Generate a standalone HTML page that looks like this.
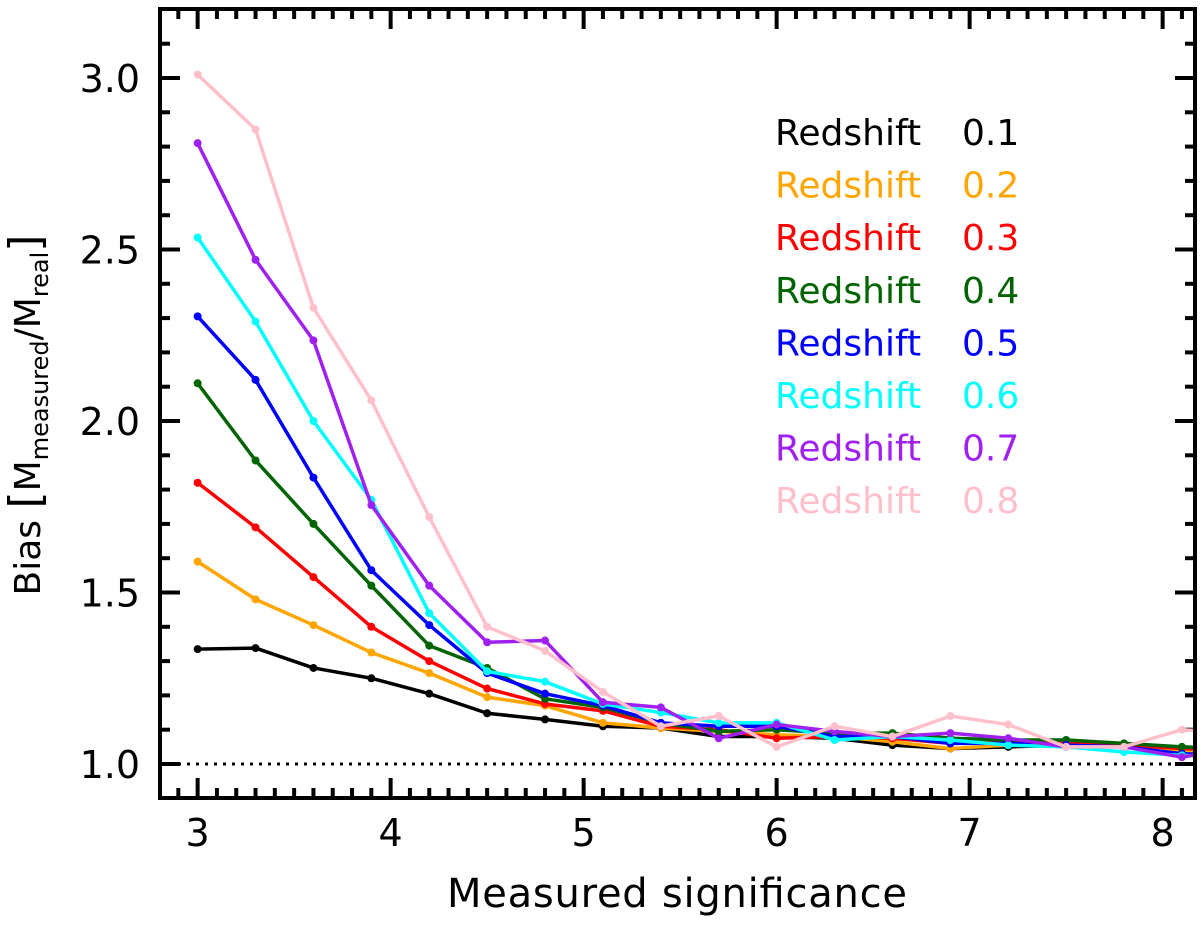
<!DOCTYPE html>
<html><head><meta charset="utf-8"><style>
body{margin:0;background:#fff}
svg text{font-family:"DejaVu Sans","Liberation Sans",sans-serif}
</style></head><body>
<svg id="chart" width="1200" height="933" viewBox="0 0 1200 933" xmlns="http://www.w3.org/2000/svg">
<defs><clipPath id="pc"><rect x="160" y="9" width="1035" height="789"/></clipPath></defs>
<g id="ticks"></g>
<g id="series" clip-path="url(#pc)"></g>
<rect x="160" y="9" width="1035" height="789" fill="none" stroke="#000" stroke-width="4"/>
<g id="legend"></g>
<text x="677" y="907" font-size="40" text-anchor="middle" textLength="460">Measured significance</text>
<text transform="translate(40,415) rotate(-90)" font-size="36" text-anchor="middle">Bias <tspan font-size="44">[</tspan>M<tspan font-size="24" dy="8">measured</tspan><tspan dy="-8">/M</tspan><tspan font-size="24" dy="8">real</tspan><tspan font-size="44" dy="-8">]</tspan></text>
</svg>
<script>
const xVals=[3,3.3,3.6,3.9,4.2,4.5,4.8,5.1,5.4,5.7,6.0,6.3,6.6,6.9,7.2,7.5,7.8,8.1,8.4];
const z01=[1.335,1.338,1.28,1.25,1.205,1.148,1.13,1.11,1.105,1.08,1.08,1.075,1.055,1.045,1.05,1.055,1.05,1.03,1.02];
const z02=[1.59,1.48,1.405,1.325,1.265,1.195,1.17,1.12,1.105,1.095,1.085,1.08,1.065,1.045,1.055,1.06,1.055,1.04,1.03];
const z03=[1.82,1.69,1.545,1.40,1.30,1.22,1.175,1.155,1.11,1.10,1.075,1.08,1.075,1.06,1.065,1.06,1.055,1.045,1.04];
const z04=[2.11,1.885,1.70,1.52,1.345,1.28,1.19,1.165,1.12,1.095,1.10,1.09,1.09,1.075,1.07,1.07,1.06,1.05,1.045];
const z05=[2.305,2.12,1.835,1.565,1.405,1.265,1.205,1.17,1.12,1.11,1.11,1.08,1.08,1.06,1.06,1.055,1.05,1.03,1.025];
const z06=[2.535,2.29,2.0,1.77,1.44,1.27,1.24,1.175,1.15,1.12,1.12,1.07,1.08,1.07,1.055,1.05,1.035,1.025,1.02];
const z07=[2.81,2.47,2.235,1.755,1.52,1.355,1.36,1.18,1.165,1.075,1.115,1.095,1.08,1.09,1.075,1.05,1.05,1.02,1.05];
const z08=[3.01,2.85,2.33,2.06,1.72,1.40,1.33,1.21,1.11,1.14,1.05,1.11,1.08,1.14,1.115,1.05,1.05,1.10,1.09];
const seriesNames=["Redshift 0.1","Redshift 0.2","Redshift 0.3","Redshift 0.4","Redshift 0.5","Redshift 0.6","Redshift 0.7","Redshift 0.8"];
const xTicks=[3,4,5,6,7,8];
const yTicks=[1.0,1.5,2.0,2.5,3.0];
const allSeries=[z01,z02,z03,z04,z05,z06,z07,z08];
const colors=["#000","#ffa500","#ff0000","#006400","#0000ff","#00ffff","#a020f0","#ffc0cb"];
const NS="http://www.w3.org/2000/svg";
const X=v=>160+(v-2.805)*193;
const Y=v=>764-(v-1)*343;
function mk(t,a,p){const e=document.createElementNS(NS,t);for(const k in a)e.setAttribute(k,a[k]);p.appendChild(e);return e;}
const tk=document.getElementById('ticks');
for(let i=28;i<=82;i++){const v=i/10;const x=X(v);if(x<162||x>1193)continue;const maj=i%10===0;const L=maj?20:10;
 let l=mk('line',{x1:x,x2:x,y1:798,y2:798-L,stroke:'#000','stroke-width':4},tk);
 l=mk('line',{x1:x,x2:x,y1:9,y2:9+L,stroke:'#000','stroke-width':4},tk);}
for(let i=9;i<=32;i++){const v=i/10;const y=Y(v);if(y<11||y>796)continue;const maj=i%5===0;const L=maj?20:10;
 let l=mk('line',{x1:160,x2:160+L,y1:y,y2:y,stroke:'#000','stroke-width':4},tk);
 l=mk('line',{x1:1195,x2:1195-L,y1:y,y2:y,stroke:'#000','stroke-width':4},tk);}
xTicks.forEach(v=>{const t=mk('text',{x:X(v),y:846,'font-size':38,'text-anchor':'middle'},tk);t.textContent=v;
 });
yTicks.forEach(v=>{const t=mk('text',{x:140,y:Y(v)+14,'font-size':38,'text-anchor':'end'},tk);t.textContent=v.toFixed(1);
 });
const sg=document.getElementById('series');
const ref=mk('line',{x1:160,x2:1195,y1:Y(1),y2:Y(1),stroke:'#000','stroke-width':3,'stroke-dasharray':'3 6'},sg);

allSeries.forEach((s,k)=>{const g=mk('g',{},sg);
 const pl=mk('polyline',{points:s.map((v,i)=>X(xVals[i])+','+Y(v)).join(' '),fill:'none',stroke:colors[k],'stroke-width':3.5,'stroke-linejoin':'round'},g);
 
 s.forEach((v,i)=>{const c=mk('circle',{cx:X(xVals[i]),cy:Y(v),r:4,fill:colors[k]},g);});});
const lg=document.getElementById('legend');
seriesNames.forEach((n,k)=>{const p=n.split(' ');const y=145+k*52.6;
 const t=mk('text',{x:775,y:y,'font-size':36,fill:colors[k]},lg);t.textContent=p[0];
 const t2=mk('text',{x:962,y:y,'font-size':36,fill:colors[k]},lg);t2.textContent=p[1];});
</script>
</body></html>
